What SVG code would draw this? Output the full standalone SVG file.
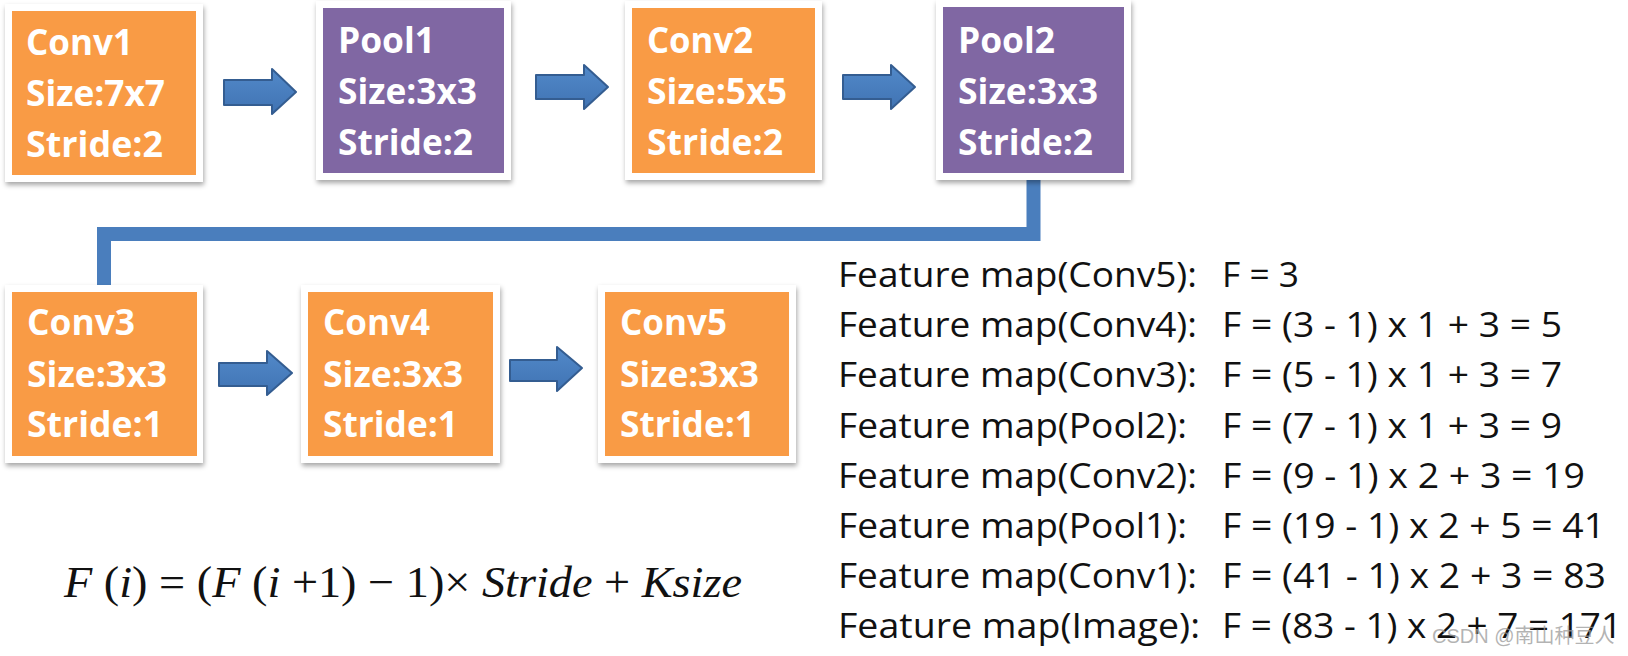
<svg xmlns="http://www.w3.org/2000/svg" width="1628" height="656" viewBox="0 0 1628 656">
<defs>
<filter id="sh" x="-10%" y="-10%" width="125%" height="130%">
<feDropShadow dx="1" dy="3" stdDeviation="2.5" flood-color="#000" flood-opacity="0.35"/>
</filter>
<linearGradient id="ag" x1="0" y1="0" x2="0" y2="1">
<stop offset="0" stop-color="#5289c9"/>
<stop offset="1" stop-color="#4073b3"/>
</linearGradient>
<style>
.frame{fill:#fff;filter:url(#sh)}
.orange{fill:#F99B45}
.purple{fill:#8067A3}
.bt{font-family:"Open Sans","DejaVu Sans",sans-serif;font-weight:700;font-size:36px;fill:#fff}
.arrow{fill:url(#ag);stroke:#345d91;stroke-width:2;stroke-linejoin:round}
.conn{fill:none;stroke:#4A7EBD;stroke-width:14;stroke-linejoin:miter}
.ft{font-family:"Open Sans","DejaVu Sans",sans-serif;font-size:34px;fill:#111}
.math{font-family:"Liberation Serif","Times New Roman",serif;font-size:45px;fill:#111}
.it{font-style:italic}
</style>
</defs>
<rect width="1628" height="656" fill="#fff"/>

<g id="connectors">
<path class="conn" d="M1033.5,178 V234 H104 V287"/>
<path class="arrow" d="M224,80 H272 V69 L296,92 L272,114 V105 H224 Z"/>
<path class="arrow" d="M536,75 H584 V65 L608,87 L584,109 V99 H536 Z"/>
<path class="arrow" d="M843,75 H891 V65 L915,87 L891,109 V99 H843 Z"/>
<path class="arrow" d="M219,363 H267 V351 L292,373 L267,395 V386 H219 Z"/>
<path class="arrow" d="M510,360 H557 V347 L582,368 L557,391 V381 H510 Z"/>
</g>

<g id="conv1">
<rect class="frame" x="5" y="4" width="198" height="178"/>
<rect class="orange" x="12" y="11" width="184" height="164"/>
<text class="bt" x="26" y="55" textLength="107" lengthAdjust="spacingAndGlyphs">Conv1</text>
<text class="bt" x="26" y="106" textLength="139" lengthAdjust="spacingAndGlyphs">Size:7x7</text>
<text class="bt" x="26" y="157" textLength="137" lengthAdjust="spacingAndGlyphs">Stride:2</text>
</g>

<g id="pool1">
<rect class="frame" x="316" y="1" width="195" height="179"/>
<rect class="purple" x="323" y="8" width="181" height="165"/>
<text class="bt" x="338" y="53" textLength="97" lengthAdjust="spacingAndGlyphs">Pool1</text>
<text class="bt" x="338" y="104" textLength="139" lengthAdjust="spacingAndGlyphs">Size:3x3</text>
<text class="bt" x="338" y="155" textLength="135" lengthAdjust="spacingAndGlyphs">Stride:2</text>
</g>

<g id="conv2">
<rect class="frame" x="625" y="1" width="197" height="179"/>
<rect class="orange" x="632" y="8" width="183" height="165"/>
<text class="bt" x="647" y="53" textLength="106" lengthAdjust="spacingAndGlyphs">Conv2</text>
<text class="bt" x="647" y="104" textLength="140" lengthAdjust="spacingAndGlyphs">Size:5x5</text>
<text class="bt" x="647" y="155" textLength="136" lengthAdjust="spacingAndGlyphs">Stride:2</text>
</g>

<g id="pool2">
<rect class="frame" x="936" y="0" width="195" height="180"/>
<rect class="purple" x="943" y="7" width="181" height="166"/>
<text class="bt" x="958" y="53" textLength="97" lengthAdjust="spacingAndGlyphs">Pool2</text>
<text class="bt" x="958" y="104" textLength="140" lengthAdjust="spacingAndGlyphs">Size:3x3</text>
<text class="bt" x="958" y="155" textLength="135" lengthAdjust="spacingAndGlyphs">Stride:2</text>
</g>

<g id="conv3">
<rect class="frame" x="5" y="285" width="198" height="178"/>
<rect class="orange" x="12" y="292" width="185" height="164"/>
<text class="bt" x="27" y="335" textLength="108" lengthAdjust="spacingAndGlyphs">Conv3</text>
<text class="bt" x="27" y="387" textLength="140" lengthAdjust="spacingAndGlyphs">Size:3x3</text>
<text class="bt" x="27" y="437" textLength="136" lengthAdjust="spacingAndGlyphs">Stride:1</text>
</g>

<g id="conv4">
<rect class="frame" x="301" y="285" width="199" height="178"/>
<rect class="orange" x="308" y="292" width="185" height="164"/>
<text class="bt" x="323" y="335" textLength="107" lengthAdjust="spacingAndGlyphs">Conv4</text>
<text class="bt" x="323" y="387" textLength="140" lengthAdjust="spacingAndGlyphs">Size:3x3</text>
<text class="bt" x="323" y="437" textLength="135" lengthAdjust="spacingAndGlyphs">Stride:1</text>
</g>

<g id="conv5">
<rect class="frame" x="598" y="285" width="198" height="178"/>
<rect class="orange" x="605" y="292" width="184" height="164"/>
<text class="bt" x="620" y="335" textLength="107" lengthAdjust="spacingAndGlyphs">Conv5</text>
<text class="bt" x="620" y="387" textLength="139" lengthAdjust="spacingAndGlyphs">Size:3x3</text>
<text class="bt" x="620" y="437" textLength="135" lengthAdjust="spacingAndGlyphs">Stride:1</text>
</g>

<g id="feature-maps">
<text class="ft" x="838" y="287" textLength="359" lengthAdjust="spacingAndGlyphs">Feature map(Conv5):</text>
<text class="ft" x="1222" y="287" textLength="77" lengthAdjust="spacingAndGlyphs">F = 3</text>
<text class="ft" x="838" y="337" textLength="359" lengthAdjust="spacingAndGlyphs">Feature map(Conv4):</text>
<text class="ft" x="1222" y="337" textLength="340" lengthAdjust="spacingAndGlyphs">F = (3 - 1) x 1 + 3 = 5</text>
<text class="ft" x="838" y="387" textLength="359" lengthAdjust="spacingAndGlyphs">Feature map(Conv3):</text>
<text class="ft" x="1222" y="387" textLength="340" lengthAdjust="spacingAndGlyphs">F = (5 - 1) x 1 + 3 = 7</text>
<text class="ft" x="838" y="438" textLength="349" lengthAdjust="spacingAndGlyphs">Feature map(Pool2):</text>
<text class="ft" x="1222" y="438" textLength="340" lengthAdjust="spacingAndGlyphs">F = (7 - 1) x 1 + 3 = 9</text>
<text class="ft" x="838" y="488" textLength="359" lengthAdjust="spacingAndGlyphs">Feature map(Conv2):</text>
<text class="ft" x="1222" y="488" textLength="363" lengthAdjust="spacingAndGlyphs">F = (9 - 1) x 2 + 3 = 19</text>
<text class="ft" x="838" y="538" textLength="349" lengthAdjust="spacingAndGlyphs">Feature map(Pool1):</text>
<text class="ft" x="1222" y="538" textLength="383" lengthAdjust="spacingAndGlyphs">F = (19 - 1) x 2 + 5 = 41</text>
<text class="ft" x="838" y="588" textLength="359" lengthAdjust="spacingAndGlyphs">Feature map(Conv1):</text>
<text class="ft" x="1222" y="588" textLength="384" lengthAdjust="spacingAndGlyphs">F = (41 - 1) x 2 + 3 = 83</text>
<text class="ft" x="838" y="638" textLength="362" lengthAdjust="spacingAndGlyphs">Feature map(Image):</text>
<text class="ft" x="1222" y="638" textLength="400" lengthAdjust="spacingAndGlyphs">F = (83 - 1) x 2 + 7 = 171</text>
</g>

<g id="formula">
<text class="math" x="64" y="597" textLength="678" lengthAdjust="spacingAndGlyphs"><tspan class="it">F</tspan> (<tspan class="it">i</tspan>) = (<tspan class="it">F</tspan> (<tspan class="it">i</tspan> +1) − 1)× <tspan class="it">Stride</tspan> + <tspan class="it">Ksize</tspan></text>
</g>

<g id="watermark">
<text x="1432" y="643" font-family="'Liberation Sans','Noto Sans CJK SC',sans-serif" font-size="20" fill="#9a9a9a" fill-opacity="0.75">CSDN @南山种豆人</text>
</g>
</svg>
